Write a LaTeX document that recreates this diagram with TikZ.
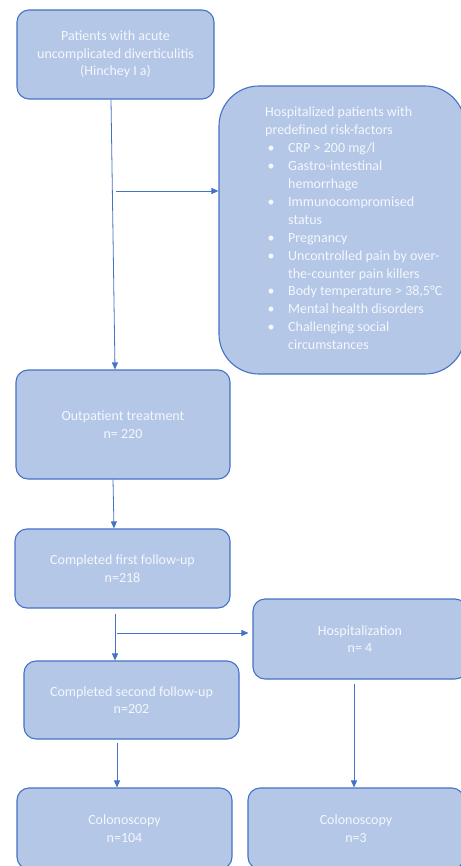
\documentclass[tikz,border=0pt]{standalone}
\usepackage{fontspec}
\setmainfont{Carlito}
\usetikzlibrary{arrows.meta}
\definecolor{boxfill}{HTML}{B4C7E7}
\definecolor{boxline}{HTML}{4472C4}
\definecolor{boxtext}{HTML}{F4F7FC}
\begin{document}
\begin{tikzpicture}[x=1pt,y=1pt,
  box/.style={draw=boxline, fill=boxfill, line width=1.1pt, rounded corners=12pt,
    text=boxtext, align=center, font=\fontsize{14}{17.6}\selectfont, inner sep=0pt},
  arr/.style={draw=boxline, line width=0.8pt, -{Triangle[length=7pt,width=6pt]}}]
\useasboundingbox (0,0) rectangle (460,-866);
% boxes
\node[box, minimum width=197pt, minimum height=89pt] (b1) at (115.5,-54.5)
  {Patients with acute\\uncomplicated diverticulitis\\(Hinchey I a)};
\node[box, rounded corners=40pt, minimum width=246pt, minimum height=288pt] (risk) at (342,-230) {};
\node[anchor=north west, inner sep=0pt, align=left, text=boxtext,
  font=\fontsize{14}{17.9}\selectfont] (risktext) at (265,-107)
  {Hospitalized patients with\\
   predefined risk-factors\\
   \makebox[23pt][l]{\,•}CRP > 200 mg/l\\
   \makebox[23pt][l]{\,•}Gastro-intestinal\\
   \hspace*{23pt}hemorrhage\\
   \makebox[23pt][l]{\,•}Immunocompromised\\
   \hspace*{23pt}status\\
   \makebox[23pt][l]{\,•}Pregnancy\\
   \makebox[23pt][l]{\,•}Uncontrolled pain by over-\\
   \hspace*{23pt}the-counter pain killers\\
   \makebox[23pt][l]{\,•}Body temperature > 38,5°C\\
   \makebox[23pt][l]{\,•}Mental health disorders\\
   \makebox[23pt][l]{\,•}Challenging social\\
   \hspace*{23pt}circumstances};
\node[box, minimum width=214pt, minimum height=109pt] (b3) at (123,-424.5)
  {Outpatient treatment\\n= 220};
\node[box, minimum width=215pt, minimum height=79pt] (b4) at (122.5,-568.5)
  {Completed first follow-up\\n=218};
\node[box, minimum width=214pt, minimum height=80pt] (b5) at (360,-639)
  {Hospitalization\\n= 4};
\node[box, minimum width=215pt, minimum height=78pt] (b6) at (131.5,-700)
  {Completed second follow-up\\n=202};
\node[box, minimum width=215pt, minimum height=81pt] (b7) at (124.5,-828.5)
  {Colonoscopy\\n=104};
\node[box, minimum width=216pt, minimum height=81pt] (b8) at (356,-828.5)
  {Colonoscopy\\n=3};
% connectors
\draw[arr] ([xshift=-4.5pt]b1.south) -- ([xshift=-8pt]b3.north);
\coordinate (j1) at (116,-191);
\draw[arr] (j1) -- (j1 -| risk.west);
\draw[arr] ([xshift=-10pt]b3.south) -- ([xshift=-8.5pt]b4.north);
\draw[arr] ([xshift=-7.5pt,yshift=-5pt]b4.south) -- ([xshift=-16.5pt]b6.north);
\coordinate (j2) at (117,-633);
\draw[arr, shorten >=4pt] (j2) -- (j2 -| b5.west);
\draw[arr] ([xshift=-14.5pt,yshift=-3pt]b6.south) -- ([xshift=-7.5pt]b7.north);
\draw[arr] ([xshift=-6pt,yshift=-4pt]b5.south) -- ([xshift=-2pt]b8.north);
\end{tikzpicture}
\end{document}
